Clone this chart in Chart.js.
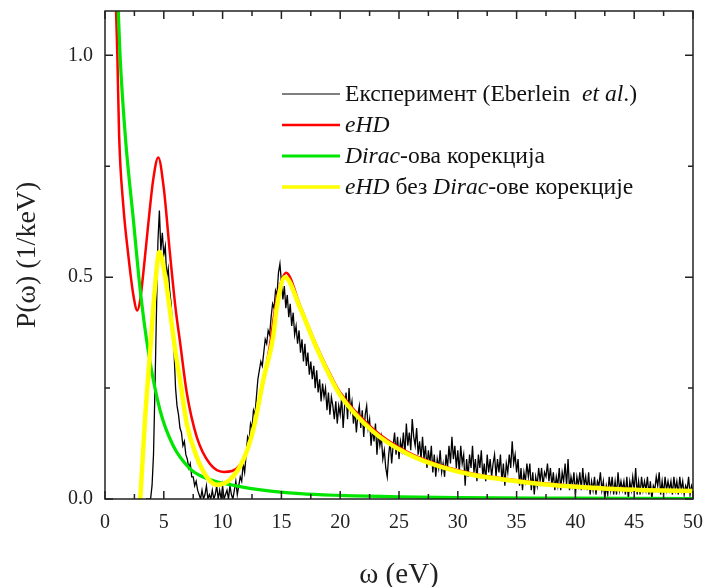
<!DOCTYPE html>
<html>
<head>
<meta charset="utf-8">
<script src="https://cdn.jsdelivr.net/npm/chart.js@4.4.1/dist/chart.umd.min.js"></script>
<style>
  body { margin: 0; background: #fff; }
  #chart-wrapper { width: 705px; height: 587px; }
</style>
</head>
<body>
<div id="chart-wrapper"><canvas id="myChart"></canvas></div>
<script>
const xTickValues = [0, 5, 10, 15, 20, 25, 30, 35, 40, 45, 50];
const xMinorTicks = [2.5, 7.5, 12.5, 17.5, 22.5, 27.5, 32.5, 37.5, 42.5, 47.5];
const yTickValues = [0, 0.5, 1.0];
const yMinorTicks = [0.25, 0.75];

// experiment (Eberlein et al.), sampled every 0.125 eV from 3.5 eV, one row per eV
const expOmegaStart = 3.5;
const expOmegaStep = 0.125;
const expValues = [
  0, 0, 0, 0,
  0.03, 0.10, 0.25, 0.42, 0.58, 0.65, 0.56, 0.60,
  0.55, 0.57, 0.50, 0.52, 0.47, 0.44, 0.38, 0.33,
  0.25, 0.21, 0.19, 0.16, 0.15, 0.12, 0.13, 0.10,
  0.09, 0.07, 0.08, 0.05, 0.05, 0.03, 0.04, 0.02,
  0.01, 0.0, 0.02, 0.0, 0.01, 0.03, 0.0, 0.01,
  0.0, 0.02, 0.0, 0.01, 0.03, 0.0, 0.02, 0.0,
  0.03, 0.0, 0.01, 0.02, 0.0, 0.03, 0.01, 0.0,
  0.02, 0.04, 0.01, 0.03, 0.05, 0.04, 0.08, 0.06,
  0.10, 0.14, 0.13, 0.17, 0.16, 0.20, 0.19, 0.23,
  0.27, 0.29, 0.31, 0.30, 0.33, 0.36, 0.35, 0.38,
  0.37, 0.41, 0.44, 0.43, 0.47, 0.46, 0.51, 0.53,
  0.49, 0.45, 0.48, 0.43, 0.46, 0.41, 0.44, 0.39,
  0.42, 0.37, 0.39, 0.35, 0.38, 0.33, 0.36, 0.31,
  0.35, 0.30, 0.33, 0.28, 0.31, 0.27, 0.30, 0.25,
  0.29, 0.24, 0.27, 0.22, 0.26, 0.23, 0.25, 0.20,
  0.24, 0.19, 0.23, 0.21, 0.18, 0.22, 0.17, 0.21,
  0.19, 0.23, 0.16, 0.21, 0.24, 0.18, 0.25, 0.20,
  0.22, 0.17, 0.20, 0.15, 0.19, 0.21, 0.16, 0.20,
  0.14, 0.19, 0.21, 0.16, 0.18, 0.12, 0.16, 0.13,
  0.17, 0.10, 0.15, 0.12, 0.14, 0.09, 0.11, 0.07,
  0.05, 0.10, 0.13, 0.08, 0.12, 0.15, 0.10, 0.14,
  0.09, 0.13, 0.11, 0.15, 0.10, 0.17, 0.12, 0.15,
  0.11, 0.18, 0.14, 0.12, 0.16, 0.10, 0.13, 0.09,
  0.14, 0.09, 0.12, 0.07, 0.11, 0.08, 0.12, 0.06,
  0.10, 0.05, 0.09, 0.07, 0.11, 0.06, 0.08, 0.05,
  0.10, 0.07, 0.12, 0.08, 0.14, 0.09, 0.12, 0.07,
  0.11, 0.06, 0.12, 0.08, 0.10, 0.03, 0.09, 0.05,
  0.10, 0.07, 0.12, 0.06, 0.09, 0.04, 0.10, 0.07,
  0.11, 0.05, 0.08, 0.04, 0.10, 0.06, 0.09, 0.05,
  0.08, 0.10, 0.05, 0.09, 0.06, 0.10, 0.04, 0.08,
  0.03, 0.08, 0.06, 0.10, 0.07, 0.13, 0.08, 0.10,
  0.06, 0.09, 0.03, 0.07, 0.02, 0.06, 0.04, 0.08,
  0.05, 0.08, 0.02, 0.06, 0.01, 0.05, 0.03, 0.07,
  0.04, 0.07, 0.03, 0.06, 0.05, 0.08, 0.04, 0.07,
  0.03, 0.06, 0.02, 0.05, 0.03, 0.07, 0.02, 0.06,
  0.04, 0.08, 0.03, 0.09, 0.02, 0.05, 0.03, 0.06,
  0.01, 0.05, 0.03, 0.06, 0.02, 0.07, 0.03, 0.05,
  0.02, 0.06, 0.01, 0.04, 0.02, 0.05, 0.01, 0.04,
  0.03, 0.06, 0.02, 0.04, 0.0, 0.03, 0.01, 0.05,
  0.02, 0.05, 0.01, 0.04, 0.01, 0.06, 0.02, 0.04,
  0.02, 0.04, 0.01, 0.05, 0.0, 0.04, 0.02, 0.05,
  0.02, 0.07, 0.01, 0.04, 0.01, 0.05, 0.02, 0.04,
  0.02, 0.05, 0.01, 0.04, 0.0, 0.03, 0.02, 0.05,
  0.03, 0.06, 0.01, 0.04, 0.01, 0.05, 0.02, 0.04,
  0.02, 0.04, 0.01, 0.05, 0.02, 0.04, 0.01, 0.05,
  0.02, 0.04, 0.01, 0.03, 0.02, 0.05, 0.01, 0.03,
  0.02
];

const ehdOmega = [0.92, 1.05, 1.2, 1.56, 1.98, 2.41, 2.75, 3.0, 3.26, 3.68, 4.1, 4.53, 5.0, 5.5, 6.0, 6.4, 6.95, 7.8, 8.9, 10.1,
  11.5, 12.3, 13.2, 14.0, 14.6, 15.4, 16.6, 18.0, 19.4, 20, 22.8, 25.7, 28.5, 31.3, 34.2, 37, 39.8, 42.7, 46, 50];
const ehdValues = [1.12, 1.0, 0.82, 0.66, 0.55, 0.46, 0.425, 0.45, 0.51, 0.62, 0.72, 0.77, 0.70, 0.56, 0.43, 0.35, 0.24, 0.14, 0.08, 0.061,
  0.077, 0.125, 0.23, 0.343, 0.45, 0.51, 0.435, 0.345, 0.268, 0.24, 0.158, 0.106, 0.076, 0.057, 0.045, 0.036, 0.03, 0.025, 0.021, 0.019];

const diracOmega = [1.1, 1.28, 1.75, 2.41, 3.0, 3.7, 4.68, 5.8, 7.23, 8.07, 9.5, 10.9, 12.3, 16.6, 20, 25, 30, 40, 50];
const diracValues = [1.12, 1.0, 0.81, 0.63, 0.47, 0.33, 0.2, 0.12, 0.068, 0.053, 0.039, 0.031, 0.024, 0.012, 0.008, 0.005, 0.003, 0.002, 0.001];

const noDiracOmega = [2.95, 3.0, 3.4, 3.83, 4.25, 4.62, 5.0, 5.5, 6.0, 6.4, 6.95, 7.8, 8.65, 9.5, 10.6, 11.76, 12.6, 13.46, 14.3, 14.6,
  15.3, 16.6, 18.0, 19.4, 20, 22.8, 25.7, 28.5, 31.3, 34.2, 37, 39.8, 42.7, 46, 50];
const noDiracValues = [-0.02, 0.0, 0.178, 0.33, 0.477, 0.557, 0.52, 0.43, 0.33, 0.265, 0.17, 0.095, 0.05, 0.032, 0.043, 0.088, 0.155, 0.268, 0.366, 0.43,
  0.50, 0.43, 0.34, 0.262, 0.234, 0.152, 0.102, 0.073, 0.054, 0.043, 0.034, 0.028, 0.023, 0.02, 0.018];

const legendLabels = [
  [['Експеримент (Eberlein  ', false], ['et al', true], ['.)', false]],
  [['eHD', true]],
  [['Dirac', true], ['-ова корекција', false]],
  [['eHD', true], [' без ', false], ['Dirac', true], ['-ове корекције', false]]
];
const legendColors = ['#000000', 'rgb(255,0,0)', 'rgb(0,230,0)', 'rgb(255,255,0)'];
const legendWidths = [1, 2.5, 3, 3.5];

const serif = "'Liberation Serif', 'Times New Roman', serif";

function toPoints(xs, ys) {
  return xs.map((x, i) => ({ x: x, y: ys[i] }));
}

const expPoints = expValues.map((v, i) => ({ x: expOmegaStart + i * expOmegaStep, y: v }));

const framePlugin = {
  id: 'frame',
  afterDatasetsDraw(chart) {
    const { ctx, chartArea: a, scales: { x, y } } = chart;
    ctx.save();
    ctx.strokeStyle = '#222';
    ctx.lineWidth = 1.5;
    ctx.strokeRect(a.left, a.top, a.right - a.left, a.bottom - a.top);
    ctx.beginPath();
    function xTick(v, len) {
      const px = x.getPixelForValue(v);
      ctx.moveTo(px, a.bottom); ctx.lineTo(px, a.bottom - len);
      ctx.moveTo(px, a.top); ctx.lineTo(px, a.top + len);
    }
    function yTick(v, len) {
      const py = y.getPixelForValue(v);
      ctx.moveTo(a.left, py); ctx.lineTo(a.left + len, py);
      ctx.moveTo(a.right, py); ctx.lineTo(a.right - len, py);
    }
    xTickValues.forEach(v => xTick(v, 8));
    xMinorTicks.forEach(v => xTick(v, 5));
    yTickValues.forEach(v => yTick(v, 8));
    yMinorTicks.forEach(v => yTick(v, 5));
    ctx.stroke();
    ctx.restore();
  }
};

const legendPlugin = {
  id: 'inlineLegend',
  afterDraw(chart) {
    const ctx = chart.ctx;
    ctx.save();
    ctx.textBaseline = 'middle';
    ctx.fillStyle = '#111';
    legendLabels.forEach((parts, i) => {
      const rowY = 94 + i * 31;
      ctx.strokeStyle = legendColors[i];
      ctx.lineWidth = legendWidths[i];
      ctx.beginPath();
      ctx.moveTo(282, rowY);
      ctx.lineTo(340, rowY);
      ctx.stroke();
      let textX = 345;
      parts.forEach(([text, italic]) => {
        ctx.font = (italic ? 'italic ' : '') + '23.6px ' + serif;
        ctx.fillText(text, textX, rowY + 1);
        textX += ctx.measureText(text).width;
      });
    });
    ctx.restore();
  }
};

const data = {
  datasets: [
    {
      label: 'eHD без Dirac-ове корекције',
      data: toPoints(noDiracOmega, noDiracValues),
      borderColor: 'rgb(255,255,0)',
      borderWidth: 4.5,
      cubicInterpolationMode: 'monotone',
      order: 0
    },
    {
      label: 'Dirac-ова корекција',
      data: toPoints(diracOmega, diracValues),
      borderColor: 'rgb(0,230,0)',
      borderWidth: 3.2,
      cubicInterpolationMode: 'monotone',
      order: 1
    },
    {
      label: 'eHD',
      data: toPoints(ehdOmega, ehdValues),
      borderColor: 'rgb(255,0,0)',
      borderWidth: 2.5,
      cubicInterpolationMode: 'monotone',
      order: 2
    },
    {
      label: 'Експеримент (Eberlein et al.)',
      data: expPoints,
      borderColor: '#000',
      borderWidth: 1.3,
      tension: 0,
      order: 3
    }
  ]
};

const config = {
  type: 'line',
  data: data,
  options: {
    responsive: true,
    maintainAspectRatio: false,
    animation: false,
    layout: { padding: { top: 11, right: 12, left: 0, bottom: 0 } },
    elements: { point: { radius: 0 } },
    plugins: { legend: { display: false }, tooltip: { enabled: false } },
    scales: {
      x: {
        type: 'linear',
        min: 0,
        max: 50,
        afterBuildTicks: scale => { scale.ticks = xTickValues.map(v => ({ value: v })); },
        afterFit: scale => {
          scale.height = 88;
          scale.paddingLeft = 0;
          scale.paddingRight = 0;
        },
        grid: { display: false, drawTicks: false },
        border: { display: false },
        ticks: { padding: 12, color: '#222', font: { family: serif, size: 20 }, maxRotation: 0 },
        title: {
          display: true,
          text: 'ω (eV)',
          color: '#222',
          padding: 0,
          font: { family: serif, size: 29, lineHeight: 0.8 }
        }
      },
      y: {
        type: 'linear',
        min: 0,
        max: 1.1,
        afterBuildTicks: scale => { scale.ticks = yTickValues.map(v => ({ value: v })); },
        afterFit: scale => {
          scale.width = 105;
          scale.paddingTop = 0;
          scale.paddingBottom = 0;
        },
        grid: { display: false, drawTicks: false },
        border: { display: false },
        ticks: { padding: 12, color: '#222', font: { family: serif, size: 20 }, callback: v => v.toFixed(1) },
        title: {
          display: true,
          text: 'P(ω) (1/keV)',
          color: '#222',
          padding: { top: 11, bottom: 0 },
          font: { family: serif, size: 28 }
        }
      }
    }
  },
  plugins: [framePlugin, legendPlugin]
};

new Chart(document.getElementById('myChart'), config);
</script>
</body>
</html>
